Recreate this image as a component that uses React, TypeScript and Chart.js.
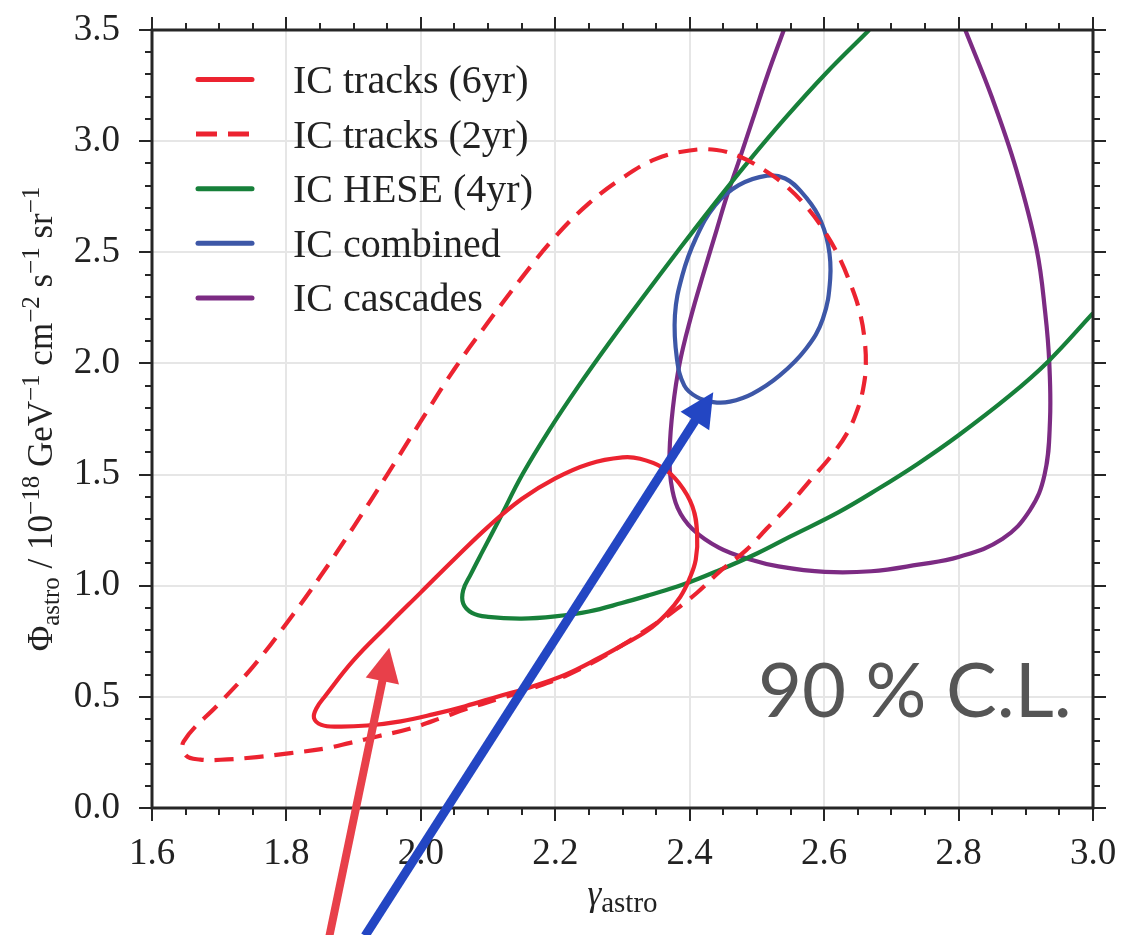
import React, { useEffect, useRef } from "react";
import { Chart, registerables } from "chart.js";

Chart.register(...registerables);

// ---------- data ----------
const xTickValues = [1.6, 1.8, 2.0, 2.2, 2.4, 2.6, 2.8, 3.0];
const yTickValues = [0, 0.5, 1.0, 1.5, 2.0, 2.5, 3.0, 3.5];
const xMinorStep = 0.05;
const yMinorStep = 0.1;

const seriesLabels = [
  "IC tracks (6yr)",
  "IC tracks (2yr)",
  "IC HESE (4yr)",
  "IC combined",
  "IC cascades",
];

// closed contours (the library closes the loop)
const tracks6yr: [number, number][] = [
  [2.05, 1.12], [2.1, 1.265], [2.15, 1.39], [2.2, 1.483], [2.25, 1.548],
  [2.3, 1.577], [2.326, 1.571], [2.359, 1.532], [2.384, 1.462], [2.404, 1.357],
  [2.411, 1.237], [2.409, 1.117], [2.399, 1.027], [2.386, 0.95], [2.365, 0.872],
  [2.337, 0.798], [2.3, 0.733], [2.265, 0.675], [2.215, 0.6], [2.165, 0.546],
  [2.115, 0.502], [2.066, 0.458], [2.018, 0.421], [1.97, 0.39], [1.92, 0.371],
  [1.876, 0.366], [1.852, 0.374], [1.841, 0.405], [1.845, 0.45], [1.858, 0.505],
  [1.9, 0.665], [1.95, 0.82], [2.0, 0.97],
];

const tracks2yr: [number, number][] = [
  [1.647, 0.299], [1.7, 0.47], [1.75, 0.635], [1.8, 0.83], [1.85, 1.04],
  [1.9, 1.265], [1.95, 1.5], [2.0, 1.74], [2.05, 1.975], [2.1, 2.185],
  [2.15, 2.385], [2.2, 2.57], [2.25, 2.72], [2.3, 2.835], [2.35, 2.92],
  [2.4, 2.958], [2.44, 2.96], [2.475, 2.93], [2.507, 2.877], [2.542, 2.802],
  [2.576, 2.697], [2.601, 2.592], [2.621, 2.486], [2.64, 2.351], [2.653, 2.231],
  [2.66, 2.111], [2.662, 1.991], [2.658, 1.886], [2.65, 1.796], [2.635, 1.691],
  [2.611, 1.586], [2.581, 1.48], [2.547, 1.36], [2.514, 1.255], [2.484, 1.16],
  [2.447, 1.07], [2.41, 0.966], [2.372, 0.876], [2.335, 0.801], [2.3, 0.733],
  [2.265, 0.67], [2.215, 0.594], [2.165, 0.538], [2.115, 0.49], [2.066, 0.444],
  [2.035, 0.41], [1.985, 0.358], [1.935, 0.322], [1.895, 0.293], [1.856, 0.267],
  [1.806, 0.247], [1.756, 0.229], [1.702, 0.217], [1.672, 0.218], [1.651, 0.235],
];

const combined: [number, number][] = [
  [2.378, 2.216], [2.389, 2.396], [2.409, 2.562], [2.438, 2.712], [2.473, 2.802],
  [2.515, 2.845], [2.542, 2.832], [2.566, 2.772], [2.591, 2.667], [2.606, 2.532],
  [2.609, 2.38], [2.598, 2.2], [2.573, 2.066], [2.534, 1.946], [2.493, 1.863],
  [2.46, 1.828], [2.435, 1.826], [2.41, 1.85], [2.392, 1.9], [2.381, 2.02],
];

// open contours (leave the plot)
const hese4yr: [number, number][] = [
  [2.667, 3.5], [2.601, 3.3], [2.541, 3.1], [2.485, 2.9], [2.432, 2.7],
  [2.381, 2.5], [2.331, 2.3], [2.282, 2.1], [2.235, 1.9], [2.191, 1.7],
  [2.151, 1.5], [2.117, 1.3], [2.091, 1.15], [2.074, 1.05], [2.063, 0.98],
  [2.063, 0.92], [2.076, 0.878], [2.1, 0.86], [2.15, 0.852], [2.2, 0.862],
  [2.25, 0.884], [2.299, 0.922], [2.339, 0.957], [2.389, 1.004], [2.444, 1.07],
  [2.5, 1.145], [2.55, 1.222], [2.621, 1.33], [2.68, 1.435], [2.739, 1.548],
  [2.8, 1.677], [2.876, 1.855], [2.933, 2.008], [3.0, 2.226],
];

const cascades: [number, number][] = [
  [2.54, 3.5], [2.516, 3.3], [2.494, 3.1], [2.472, 2.9], [2.455, 2.75],
  [2.44, 2.6], [2.42, 2.4], [2.401, 2.2], [2.385, 2.0], [2.375, 1.8],
  [2.37, 1.6], [2.372, 1.47], [2.382, 1.35], [2.404, 1.255], [2.444, 1.17],
  [2.49, 1.118], [2.532, 1.087], [2.601, 1.062], [2.67, 1.065], [2.74, 1.095],
  [2.8, 1.129], [2.865, 1.21], [2.906, 1.339], [2.928, 1.5], [2.936, 1.742],
  [2.935, 2.0], [2.929, 2.226], [2.916, 2.516], [2.886, 2.871], [2.85, 3.194],
  [2.81, 3.5],
];

// arrows: [tail, tip] in data coordinates
const redArrow: [number, number][] = [[1.864, -0.575], [1.953, 0.721]];
const blueArrow: [number, number][] = [[1.917, -0.575], [2.435, 1.87]];

const annotationText = "90 % C.L.";

// ---------- styles ----------
const RED = "#ec2330";
const GREEN = "#17803a";
const BLUE = "#3d57a7";
const PURPLE = "#7c2b83";
const seriesColors = [RED, RED, GREEN, BLUE, PURPLE];
const SERIF = "'Liberation Serif', 'DejaVu Serif', serif";

const toPts = (arr: [number, number][]) => arr.map(([x, y]) => ({ x, y }));

function drawArrow(ctx: CanvasRenderingContext2D, chart: any, pts: [number, number][], color: string, width: number) {
  const xs = chart.scales.x;
  const ys = chart.scales.y;
  const x0 = xs.getPixelForValue(pts[0][0]);
  const y0 = ys.getPixelForValue(pts[0][1]);
  const x1 = xs.getPixelForValue(pts[1][0]);
  const y1 = ys.getPixelForValue(pts[1][1]);
  const ang = Math.atan2(y1 - y0, x1 - x0);
  const headLen = 34;
  const headHalf = 17;
  const bx = x1 - headLen * Math.cos(ang);
  const by = y1 - headLen * Math.sin(ang);
  ctx.save();
  ctx.strokeStyle = color;
  ctx.fillStyle = color;
  ctx.lineWidth = width;
  ctx.lineCap = "butt";
  ctx.beginPath();
  ctx.moveTo(x0, y0);
  ctx.lineTo(bx + 2 * Math.cos(ang), by + 2 * Math.sin(ang));
  ctx.stroke();
  ctx.beginPath();
  ctx.moveTo(x1, y1);
  ctx.lineTo(bx + headHalf * Math.sin(ang), by - headHalf * Math.cos(ang));
  ctx.lineTo(bx - headHalf * Math.sin(ang), by + headHalf * Math.cos(ang));
  ctx.closePath();
  ctx.fill();
  ctx.restore();
}

type Seg = { t: string; size: number; dy: number; italic?: boolean };

function drawSegments(ctx: CanvasRenderingContext2D, segs: Seg[], cx: number, cy: number) {
  let total = 0;
  const widths = segs.map((s) => {
    ctx.font = `${s.italic ? "italic " : ""}${s.size}px ${SERIF}`;
    const w = ctx.measureText(s.t).width;
    total += w;
    return w;
  });
  let x = cx - total / 2;
  segs.forEach((s, i) => {
    ctx.font = `${s.italic ? "italic " : ""}${s.size}px ${SERIF}`;
    ctx.fillText(s.t, x, cy + s.dy);
    x += widths[i];
  });
}

// make closed contours smooth loops
const loopPlugin = {
  id: "loopContours",
  beforeDatasetDraw(chart: any, args: any) {
    const ds = chart.data.datasets[args.index];
    if (!ds || !ds.closedLoop) return;
    const line = args.meta && args.meta.dataset;
    if (!line) return;
    line._loop = true;
    line._fullLoop = true;
    line._pointsUpdated = false;
    line._segments = undefined;
    line._path = undefined;
    if (typeof line.updateControlPoints === "function") {
      line.updateControlPoints(chart.chartArea, "x");
    }
  },
};

const decorPlugin = {
  id: "decor",
  afterDatasetsDraw(chart: any) {
    const { ctx, chartArea: ca } = chart;
    const xs = chart.scales.x;
    const ys = chart.scales.y;
    ctx.save();

    // frame
    ctx.strokeStyle = "#262626";
    ctx.lineWidth = 3;
    ctx.strokeRect(ca.left, ca.top, ca.right - ca.left, ca.bottom - ca.top);

    // ticks (outward on all sides)
    ctx.lineWidth = 2;
    ctx.strokeStyle = "#262626";
    const nX = Math.round((xTickValues[xTickValues.length - 1] - xTickValues[0]) / xMinorStep);
    for (let i = 0; i <= nX; i++) {
      const v = xTickValues[0] + i * xMinorStep;
      const major = xTickValues.some((t) => Math.abs(t - v) < 1e-6);
      const L = major ? 13 : 7;
      const px = Math.round(xs.getPixelForValue(v));
      ctx.beginPath();
      ctx.moveTo(px, ca.bottom);
      ctx.lineTo(px, ca.bottom + L);
      ctx.moveTo(px, ca.top);
      ctx.lineTo(px, ca.top - L);
      ctx.stroke();
    }
    const nY = Math.round((yTickValues[yTickValues.length - 1] - yTickValues[0]) / yMinorStep);
    for (let i = 0; i <= nY; i++) {
      const v = yTickValues[0] + i * yMinorStep;
      const major = yTickValues.some((t) => Math.abs(t - v) < 1e-6);
      const L = major ? 13 : 7;
      const py = Math.round(ys.getPixelForValue(v));
      ctx.beginPath();
      ctx.moveTo(ca.left, py);
      ctx.lineTo(ca.left - L, py);
      ctx.moveTo(ca.right, py);
      ctx.lineTo(ca.right + L, py);
      ctx.stroke();
    }

    // legend
    const rowY0 = ca.top + 49.5;
    const rowStep = 54.6;
    seriesLabels.forEach((label, i) => {
      const yy = rowY0 + i * rowStep;
      ctx.strokeStyle = seriesColors[i];
      ctx.lineWidth = 5;
      ctx.beginPath();
      if (i === 1) {
        ctx.setLineDash([21, 11]);
        ctx.lineCap = "butt";
        ctx.moveTo(ca.left + 44, yy);
        ctx.lineTo(ca.left + 102, yy);
      } else {
        ctx.setLineDash([]);
        ctx.lineCap = "round";
        ctx.moveTo(ca.left + 46, yy);
        ctx.lineTo(ca.left + 100, yy);
      }
      ctx.stroke();
      ctx.setLineDash([]);
      ctx.fillStyle = "#222";
      ctx.font = `40px ${SERIF}`;
      ctx.textAlign = "left";
      ctx.textBaseline = "alphabetic";
      ctx.fillText(label, ca.left + 141, yy + 13.5);
    });

    // annotation
    ctx.fillStyle = "#555555";
    ctx.font = "76px Lato, 'Open Sans', sans-serif";
    ctx.textAlign = "left";
    ctx.textBaseline = "alphabetic";
    ctx.fillText(annotationText, 758, 717);

    // axis titles
    ctx.fillStyle = "#222";
    ctx.textAlign = "left";
    ctx.textBaseline = "alphabetic";
    const xc = (ca.left + ca.right) / 2;
    drawSegments(ctx, [
      { t: "\u03B3", size: 35, dy: 0, italic: true },
      { t: "astro", size: 29, dy: 7 },
    ], xc, 905);

    const yc = (ca.top + ca.bottom) / 2;
    ctx.save();
    ctx.translate(52, yc);
    ctx.rotate(-Math.PI / 2);
    const M = 35;
    const S = 25;
    const SUP = -13;
    drawSegments(ctx, [
      { t: "\u03A6", size: M, dy: 0 },
      { t: "astro", size: S, dy: 7 },
      { t: " / 10", size: M, dy: 0 },
      { t: "\u221218", size: S, dy: SUP },
      { t: " GeV", size: M, dy: 0 },
      { t: "\u22121", size: S, dy: SUP },
      { t: " cm", size: M, dy: 0 },
      { t: "\u22122", size: S, dy: SUP },
      { t: " s", size: M, dy: 0 },
      { t: "\u22121", size: S, dy: SUP },
      { t: " sr", size: M, dy: 0 },
      { t: "\u22121", size: S, dy: SUP },
    ], 0, 0);
    ctx.restore();

    ctx.restore();
  },
  afterDraw(chart: any) {
    const ctx = chart.ctx;
    drawArrow(ctx, chart, redArrow, "#e8404a", 8);
    drawArrow(ctx, chart, blueArrow, "#2346c3", 9);
  },
};

export default function App() {
  const ref = useRef<HTMLCanvasElement>(null);

  useEffect(() => {
    const canvas = ref.current;
    if (!canvas) return;
    const mk = (data: [number, number][], color: string, closed: boolean, dash: number[] = []) => ({
      data: toPts(data),
      closedLoop: closed,
      showLine: true,
      borderColor: color,
      backgroundColor: color,
      borderWidth: 4.2,
      borderDash: dash,
      pointRadius: 0,
      pointHoverRadius: 0,
      tension: 0.4,
      fill: false,
    });
    const chart = new Chart(canvas, {
      type: "scatter",
      data: {
        datasets: [
          { label: seriesLabels[0], ...mk(tracks6yr, RED, true) },
          { label: seriesLabels[1], ...mk(tracks2yr, RED, true, [19, 11]) },
          { label: seriesLabels[2], ...mk(hese4yr, GREEN, false) },
          { label: seriesLabels[3], ...mk(combined, BLUE, true) },
          { label: seriesLabels[4], ...mk(cascades, PURPLE, false) },
        ] as any,
      },
      options: {
        animation: false,
        responsive: false,
        devicePixelRatio: 1,
        layout: { padding: { top: 30, right: 31, left: 0, bottom: 0 } },
        plugins: { legend: { display: false }, tooltip: { enabled: false } },
        events: [],
        scales: {
          x: {
            type: "linear",
            min: xTickValues[0],
            max: xTickValues[xTickValues.length - 1],
            afterBuildTicks: (s: any) => {
              s.ticks = xTickValues.map((v) => ({ value: v }));
            },
            afterFit: (s: any) => {
              s.height = 127;
              s.paddingLeft = 0;
              s.paddingRight = 0;
            },
            grid: { color: "#e6e6e6", lineWidth: 2, drawTicks: false },
            border: { display: false },
            ticks: {
              padding: 24,
              color: "#222",
              font: { family: SERIF, size: 37 },
              maxRotation: 0,
              autoSkip: false,
              callback: (v: any) => Number(v).toFixed(1),
            },
          },
          y: {
            type: "linear",
            min: yTickValues[0],
            max: yTickValues[yTickValues.length - 1],
            afterBuildTicks: (s: any) => {
              s.ticks = yTickValues.map((v) => ({ value: v }));
            },
            afterFit: (s: any) => {
              s.width = 152;
              s.paddingTop = 0;
              s.paddingBottom = 0;
            },
            grid: { color: "#e6e6e6", lineWidth: 2, drawTicks: false },
            border: { display: false },
            ticks: {
              padding: 32,
              color: "#222",
              font: { family: SERIF, size: 37 },
              autoSkip: false,
              callback: (v: any) => Number(v).toFixed(1),
            },
          },
        },
      } as any,
      plugins: [loopPlugin, decorPlugin],
    });
    return () => chart.destroy();
  }, []);

  return (
    <div style={{ position: "absolute", left: 0, top: 0, width: 1124, height: 935, background: "#fff" }}>
      <canvas ref={ref} width={1124} height={935} style={{ display: "block" }} />
    </div>
  );
}
